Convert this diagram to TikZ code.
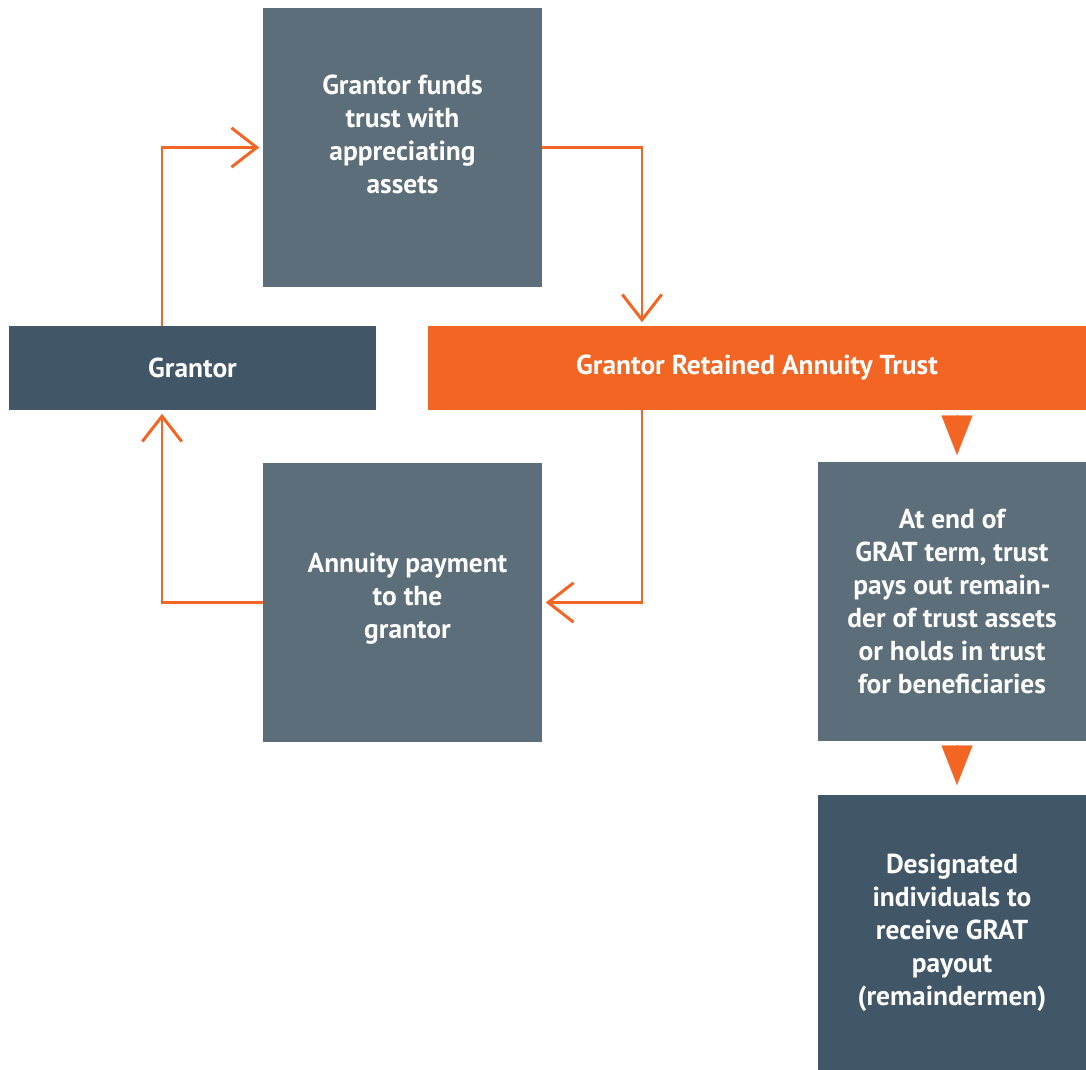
\documentclass[tikz,border=0pt]{standalone}
\usepackage{fontspec}
\setmainfont{PT Sans}
\usepackage{xcolor}
\usetikzlibrary{arrows.meta, positioning}
\definecolor{slate}{HTML}{5C6E7A}
\definecolor{darkslate}{HTML}{415768}
\definecolor{gratorange}{HTML}{F26522}
\tikzstyle{box} = [rectangle, 
inner sep=0pt, 
align=center, 
text=white, 
font=\fontsize{19.5}{23.5}\selectfont\bfseries, 
fill=slate]
\tikzstyle{darkbox} = [box, fill=darkslate]
\tikzstyle{arrow} = [line width=2.1pt, gratorange, -{Straight Barb[length=18pt, width=28pt, line width=2.1pt]}, shorten >=2.5pt]
\tikzstyle{tri} = [line width=0.1pt, gratorange, -{Triangle[length=28pt, width=22pt]}]

\begin{document}
\begin{tikzpicture}[x=0.025cm, y=-0.025cm]
        \useasboundingbox (0,0) rectangle (1086,1070);
        % Cajas
        \node [box, minimum width=6.975cm, minimum height=6.975cm] (funds) at (402.5,147.5) {};
        \node [box, fill=none] at (402.5,134.5) {Grantor funds\\ trust with\\ appreciating\\ assets};
        \node [darkbox, minimum width=9.175cm, minimum height=2.1cm] (grantor) at (192.5,368) {Grantor};
        \node [box, fill=gratorange, minimum width=16.45cm, minimum height=2.1cm] (grat) at (757,368) {Grantor Retained Annuity Trust};
        \node [box, minimum width=6.975cm, minimum height=6.975cm] (annuity) at (402.5,602.5) {};
        \node [box, fill=none] at (407.5,599) {Annuity payment\\ to the\\ grantor};
        \node [box, minimum width=6.7cm, minimum height=6.975cm] (end) at (952,601.5) {At end of\\ GRAT term, trust\\ pays out remain-\\ der of trust assets\\ or holds in trust\\ for beneficiaries};
        \node [darkbox, minimum width=6.7cm, minimum height=6.875cm] (heirs) at (952,932.5) {Designated\\ individuals to\\ receive GRAT\\ payout\\ (remaindermen)};

        % Ciclo de la anualidad
        \draw [arrow] (grantor.north -| 162,0) |- (funds.west);
        \draw [arrow] (funds.east) -| (grat.north -| 642,0);
        \draw [arrow] (grat.south -| 642,0) |- (annuity.east);
        \draw [arrow] (annuity.west) -| (grantor.south -| 162,0);

        % Remanente
        \draw [tri] (957,415) -- (957,455);
        \draw [tri] (957,745) -- (957,785);
\end{tikzpicture}
\end{document}
